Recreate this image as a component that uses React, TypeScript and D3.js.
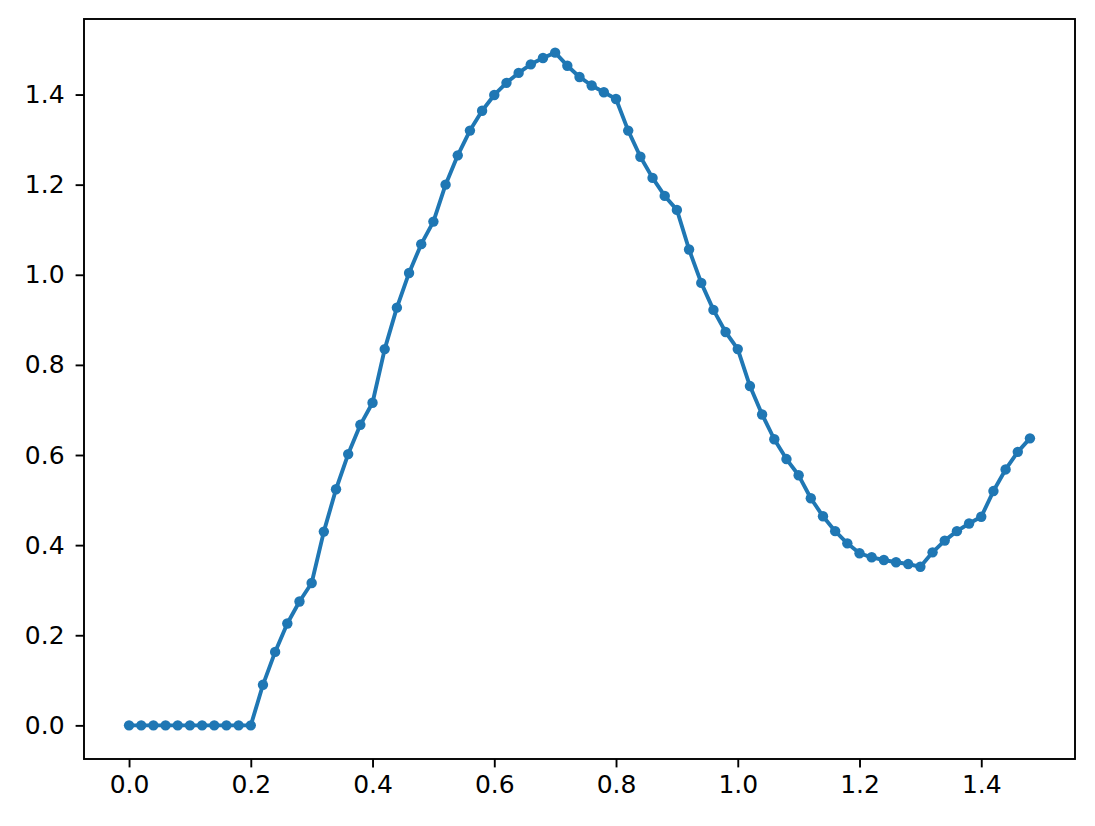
import React, { useEffect, useRef } from 'react';
import * as d3 from 'd3';

const xValues = [
  0.0, 0.02, 0.04, 0.06, 0.08, 0.1, 0.12, 0.14, 0.16, 0.18, 0.2, 0.22, 0.24, 0.26, 0.28,
  0.3, 0.32, 0.34, 0.36, 0.38, 0.4, 0.42, 0.44, 0.46, 0.48, 0.5, 0.52, 0.54, 0.56, 0.58,
  0.6, 0.62, 0.64, 0.66, 0.68, 0.7, 0.72, 0.74, 0.76, 0.78, 0.8, 0.82, 0.84, 0.86, 0.88,
  0.9, 0.92, 0.94, 0.96, 0.98, 1.0, 1.02, 1.04, 1.06, 1.08, 1.1, 1.12, 1.14, 1.16, 1.18,
  1.2, 1.22, 1.24, 1.26, 1.28, 1.3, 1.32, 1.34, 1.36, 1.38, 1.4, 1.42, 1.44, 1.46, 1.48,
];

const yValues = [
  0, 0, 0, 0, 0, 0, 0, 0, 0, 0, 0, 0.09, 0.163, 0.226, 0.275,
  0.316, 0.43, 0.524, 0.602, 0.667, 0.716, 0.835, 0.927, 1.004, 1.068, 1.118, 1.2, 1.265, 1.32, 1.364,
  1.399, 1.426, 1.448, 1.467, 1.481, 1.493, 1.464, 1.439, 1.42, 1.405, 1.39, 1.32, 1.262, 1.215, 1.175,
  1.144, 1.056, 0.982, 0.922, 0.873, 0.835, 0.753, 0.69, 0.635, 0.591, 0.555, 0.504, 0.464, 0.431, 0.404,
  0.382, 0.373, 0.367, 0.362, 0.358, 0.352, 0.384, 0.41, 0.431, 0.448, 0.463, 0.52, 0.568, 0.607, 0.637,
];

const xTicks = [0.0, 0.2, 0.4, 0.6, 0.8, 1.0, 1.2, 1.4];
const yTicks = [0.0, 0.2, 0.4, 0.6, 0.8, 1.0, 1.2, 1.4];

const App: React.FC = () => {
  const svgRef = useRef<SVGSVGElement | null>(null);

  useEffect(() => {
    if (!svgRef.current) return;
    const width = 1095;
    const height = 826;
    const left = 84, right = 1075, top = 19, bottom = 759;

    const svg = d3.select(svgRef.current).html('');
    svg.append('rect').attr('width', width).attr('height', height).attr('fill', '#fff');

    const data = xValues.map((x, i) => ({ x, y: yValues[i] }));

    // matplotlib-like 5% margins
    const xPad = (d3.max(xValues)! - d3.min(xValues)!) * 0.05;
    const yPad = (d3.max(yValues)! - d3.min(yValues)!) * 0.05;
    const xScale = d3.scaleLinear()
      .domain([d3.min(xValues)! - xPad, d3.max(xValues)! + xPad])
      .range([left, right]);
    const yScale = d3.scaleLinear()
      .domain([d3.min(yValues)! - yPad, d3.max(yValues)! + yPad])
      .range([bottom, top]);

    const line = d3.line<{ x: number; y: number }>()
      .x(d => xScale(d.x))
      .y(d => yScale(d.y));

    svg.append('path')
      .datum(data)
      .attr('fill', 'none')
      .attr('stroke', '#1f77b4')
      .attr('stroke-width', 3.9)
      .attr('stroke-linejoin', 'round')
      .attr('stroke-linecap', 'square')
      .attr('d', line);

    svg.append('g')
      .selectAll('circle')
      .data(data)
      .enter()
      .append('circle')
      .attr('cx', d => xScale(d.x))
      .attr('cy', d => yScale(d.y))
      .attr('r', 5.2)
      .attr('fill', '#1f77b4');

    const font = 'DejaVu Sans, sans-serif';

    const xAxis = d3.axisBottom(xScale)
      .tickValues(xTicks)
      .tickFormat(d => (d as number).toFixed(1))
      .tickSize(8.4)
      .tickPadding(8)
      .tickSizeOuter(0);
    const gx = svg.append('g')
      .attr('transform', `translate(0, ${bottom})`)
      .call(xAxis);
    gx.select('.domain').remove();
    gx.selectAll('line').attr('stroke', '#000').attr('stroke-width', 1.9);
    gx.selectAll('text')
      .attr('font-size', 25)
      .attr('font-family', font)
      .attr('fill', '#000');

    const yAxis = d3.axisLeft(yScale)
      .tickValues(yTicks)
      .tickFormat(d => (d as number).toFixed(1))
      .tickSize(8.4)
      .tickPadding(11)
      .tickSizeOuter(0);
    const gy = svg.append('g')
      .attr('transform', `translate(${left}, 0)`)
      .call(yAxis);
    gy.select('.domain').remove();
    gy.selectAll('line').attr('stroke', '#000').attr('stroke-width', 1.9);
    gy.selectAll('text')
      .attr('font-size', 25)
      .attr('font-family', font)
      .attr('fill', '#000');

    // frame
    svg.append('rect')
      .attr('x', left)
      .attr('y', top)
      .attr('width', right - left)
      .attr('height', bottom - top)
      .attr('fill', 'none')
      .attr('stroke', '#000')
      .attr('stroke-width', 1.9);
  }, []);

  return (
    <svg
      ref={svgRef}
      width={1095}
      height={826}
      style={{ position: 'fixed', left: 0, top: 0 }}
    />
  );
};

export default App;
